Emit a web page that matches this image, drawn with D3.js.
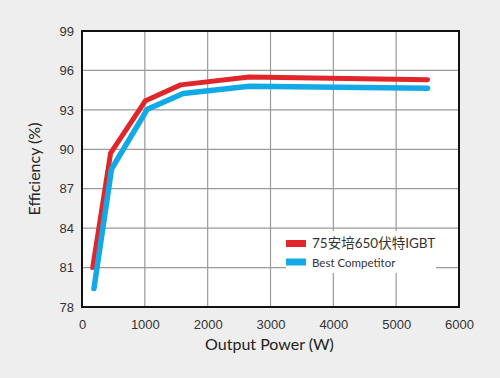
<!DOCTYPE html>
<meta charset="utf-8">
<style>
    body { margin: 0; background: #eeeeee; }
    svg { display: block; font-family: "Lato", "Noto Sans", "Noto Sans CJK SC", sans-serif; }
    .grid line { stroke: #9a9a9a; stroke-width: 1.2; }
    .tick text { fill: #333; font-size: 13px; }
</style>
<svg width="500" height="378"></svg>
<script src="https://d3js.org/d3.v7.min.js"></script>
<script>
    // data
    var seriesNames = ["75安培650伏特IGBT", "Best Competitor"];
    var seriesColors = ["#e1262b", "#13a9e6"];
    var igbtPower = [170, 455, 1010, 1570, 2660, 5500];
    var igbtEff = [81.0, 89.7, 93.7, 94.9, 95.5, 95.3];
    var compPower = [190, 470, 1040, 1610, 2660, 5500];
    var compEff = [79.4, 88.5, 93.05, 94.25, 94.8, 94.65];
    var xTicks = [0, 1000, 2000, 3000, 4000, 5000, 6000];
    var yTicks = [78, 81, 84, 87, 90, 93, 96, 99];

    var svg = d3.select("svg");
    var plotL = 82, plotR = 459, plotT = 31, plotB = 307;

    var x = d3.scaleLinear().domain([0, 6000]).range([plotL, plotR]);
    var y = d3.scaleLinear().domain([78, 99]).range([plotB, plotT]);

    svg.append("rect")
        .attr("x", plotL).attr("y", plotT)
        .attr("width", plotR - plotL).attr("height", plotB - plotT)
        .attr("fill", "#fff");

    // gridlines
    var grid = svg.append("g").attr("class", "grid");
    grid.selectAll(".v").data(xTicks.slice(1, -1)).enter().append("line")
        .attr("x1", function (d) { return x(d); }).attr("x2", function (d) { return x(d); })
        .attr("y1", plotT).attr("y2", plotB);
    grid.selectAll(".h").data(yTicks.slice(1, -1)).enter().append("line")
        .attr("y1", function (d) { return y(d); }).attr("y2", function (d) { return y(d); })
        .attr("x1", plotL).attr("x2", plotR);

    // legend box hides the grid behind it
    svg.append("rect")
        .attr("x", 286).attr("y", 231)
        .attr("width", 150).attr("height", 42)
        .attr("fill", "#fff");

    var line = d3.line()
        .x(function (d) { return x(d[0]); })
        .y(function (d) { return y(d[1]); });

    var series = [
        d3.zip(igbtPower, igbtEff),
        d3.zip(compPower, compEff)
    ];

    svg.selectAll(".series").data(series).enter().append("path")
        .attr("d", line)
        .attr("fill", "none")
        .attr("stroke", function (d, i) { return seriesColors[i]; })
        .attr("stroke-width", function (d, i) { return i ? 5.5 : 5; })
        .attr("stroke-linecap", "round")
        .attr("stroke-linejoin", "round");

    // frame
    svg.append("rect")
        .attr("x", plotL).attr("y", plotT)
        .attr("width", plotR - plotL).attr("height", plotB - plotT)
        .attr("fill", "none")
        .attr("stroke", "#111")
        .attr("stroke-width", 2);

    // axes
    var xAxis = svg.append("g")
        .attr("transform", "translate(0," + plotB + ")")
        .call(d3.axisBottom(x).tickValues(xTicks).tickFormat(d3.format("d")).tickSize(0).tickPadding(13));
    xAxis.select(".domain").remove();

    var yAxis = svg.append("g")
        .attr("transform", "translate(" + plotL + ",0)")
        .call(d3.axisLeft(y).tickValues(yTicks).tickSize(0).tickPadding(8));
    yAxis.select(".domain").remove();

    svg.append("text")
        .attr("x", x(3000) - 1).attr("y", 350)
        .attr("text-anchor", "middle")
        .attr("font-size", "16px")
        .attr("fill", "#222")
        .text("Output Power (W)");

    svg.append("text")
        .attr("transform", "translate(40," + y(88.5) + ") rotate(-90)")
        .attr("text-anchor", "middle")
        .attr("font-size", "16px")
        .attr("fill", "#222")
        .text("Efficiency (%)");

    // legend
    var legend = svg.selectAll(".legend").data(seriesNames).enter().append("g")
        .attr("transform", function (d, i) { return "translate(286," + (240 + i * 18.5) + ")"; });
    legend.append("rect")
        .attr("width", 20).attr("height", 7)
        .attr("fill", function (d, i) { return seriesColors[i]; });
    legend.append("text")
        .attr("x", 26).attr("y", 8)
        .attr("font-size", function (d, i) { return i ? "11.5px" : "13.5px"; })
        .attr("fill", "#333")
        .text(function (d) { return d; });
</script>
